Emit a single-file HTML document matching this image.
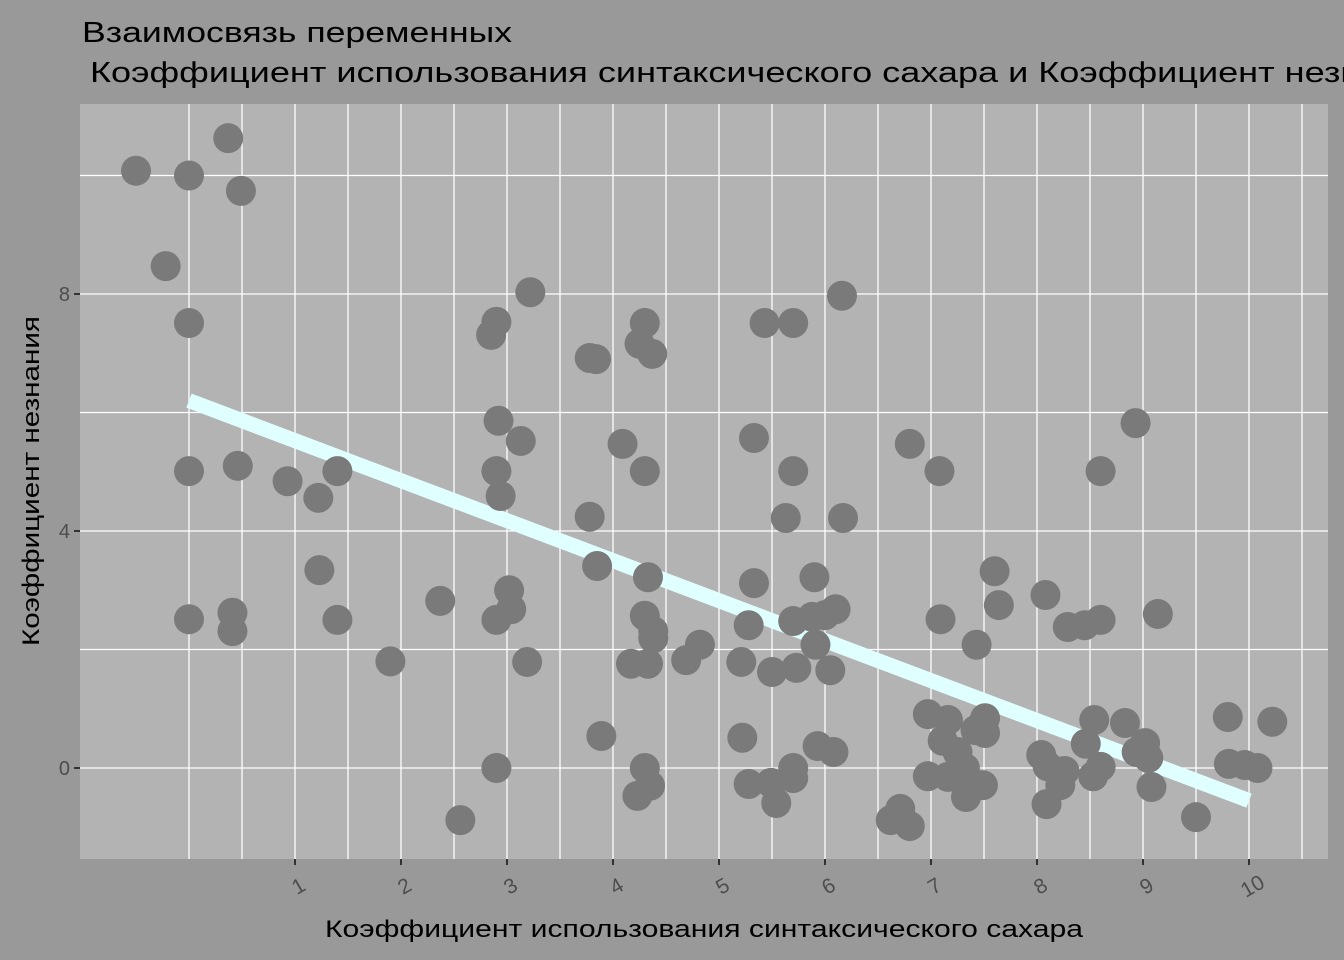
<!DOCTYPE html>
<html><head><meta charset="utf-8"><style>
html,body{margin:0;padding:0;background:#999999;}
svg{display:block;font-family:"Liberation Sans","DejaVu Sans",sans-serif;}
</style></head><body>
<svg id="chart" width="1344" height="960" xmlns="http://www.w3.org/2000/svg">
<rect x="0" y="0" width="1344" height="960" fill="#999999"/>
<rect x="80" y="104" width="1248" height="755" fill="#b3b3b3"/>
<g id="grid"></g>
<g id="trend"></g>
<g id="points"></g>
<g id="axes"></g>
<text x="82" y="42" font-size="29" fill="#000" textLength="430" lengthAdjust="spacingAndGlyphs">Взаимосвязь переменных</text>
<text x="90" y="82" font-size="29" fill="#000" textLength="1350" lengthAdjust="spacingAndGlyphs">Коэффициент использования синтаксического сахара и Коэффициент незнания</text>
<text x="704" y="937" font-size="24" fill="#000" text-anchor="middle" textLength="758" lengthAdjust="spacingAndGlyphs">Коэффициент использования синтаксического сахара</text>
<text transform="translate(39,481) rotate(-90)" font-size="24" fill="#000" text-anchor="middle" textLength="330" lengthAdjust="spacingAndGlyphs">Коэффициент незнания</text>
</svg>
<script>
const xTicks = [1,2,3,4,5,6,7,8,9,10];
const yTicks = [0,4,8];
const xMinor = [0,0.5,1.5,2.5,3.5,4.5,5.5,6.5,7.5,8.5,9.5,10.5];
const yMinor = [2,6,10];
const xVals = [-0.5,0,0.37,0.49,-0.22,0,0,0.46,0,0.41,0.41,0.93,1.22,1.4,1.23,1.4,1.9,2.37,2.56,2.85,2.9,2.92,2.9,2.94,3.02,3.04,2.9,2.9,3.19,3.13,3.22,3.78,3.84,3.78,3.85,3.89,4.09,4.17,4.23,4.25,4.3,4.37,4.3,4.33,4.3,4.38,4.38,4.33,4.3,4.35,4.69,4.82,5.21,5.22,5.28,5.28,5.33,5.33,5.43,5.5,5.54,5.49,5.7,5.7,5.63,5.7,5.73,5.7,5.7,5.9,5.91,5.88,6.0,6.1,5.93,6.08,6.05,6.16,6.17,6.62,6.71,6.8,6.8,7.08,7.09,6.97,6.97,7.11,7.16,7.25,7.16,7.32,7.33,7.42,7.49,7.51,7.51,7.43,7.6,7.64,8.08,8.04,8.1,8.09,8.22,8.26,8.29,8.45,8.6,8.6,8.46,8.54,8.53,8.6,8.83,8.93,9.02,8.94,9.05,9.08,9.14,9.5,9.8,9.81,10.08,9.96,10.22];
const yVals = [10.08,10.0,10.63,9.74,8.47,7.51,5.01,5.1,2.51,2.62,2.31,4.84,4.56,5.01,3.34,2.5,1.8,2.82,-0.88,7.31,7.53,5.86,5.01,4.59,3.0,2.68,2.5,0,1.79,5.52,8.03,6.92,6.9,4.24,3.41,0.54,5.47,1.76,-0.47,7.16,7.51,6.99,5.01,3.22,2.57,2.31,2.19,1.76,0,-0.3,1.82,2.08,1.79,0.51,2.41,-0.27,5.57,3.12,7.51,1.62,-0.59,-0.25,7.51,5.01,4.22,2.48,1.69,0,-0.17,3.22,2.08,2.55,2.58,2.68,0.37,0.27,1.65,7.97,4.22,-0.88,-0.69,-0.98,5.47,5.01,2.51,0.91,-0.14,0.46,0.81,0.27,-0.15,0,-0.49,0.64,-0.29,0.84,0.59,2.08,3.32,2.75,2.92,0.22,0.03,-0.61,-0.29,-0.05,2.38,2.41,2.5,5.01,0.41,0.81,-0.14,0.02,0.76,5.82,0.42,0.27,0.17,-0.32,2.6,-0.83,0.86,0.07,0,0.05,0.78];
const trendX = [0,10];
const trendY = [6.2,-0.55];

const NS='http://www.w3.org/2000/svg';
const X0=80,X1=1328,Y0=104,Y1=859;
function sx(v){return 189+v*106;}
function sy(v){return 768-v*59.25;}
function mk(tag,parent,attrs){const e=document.createElementNS(NS,tag);for(const k in attrs)e.setAttribute(k,attrs[k]);parent.appendChild(e);return e;}
const grid=document.getElementById('grid');
xMinor.concat(xTicks).forEach(v=>{const x=sx(v);if(x<X0||x>X1)return;
 const l=mk('line',grid,{x1:x,x2:x,y1:Y0,y2:Y1,stroke:'#fff','stroke-width':1.3});
 
 });
yMinor.concat(yTicks).forEach(v=>{const y=sy(v);if(y<Y0||y>Y1)return;
 const l=mk('line',grid,{x1:X0,x2:X1,y1:y,y2:y,stroke:'#fff','stroke-width':1.3});
 
 });
const tr=document.getElementById('trend');
const tl=mk('line',tr,{x1:sx(trendX[0]),y1:sy(trendY[0]),x2:sx(trendX[1]),y2:sy(trendY[1]),stroke:'#e0ffff','stroke-width':15});


const pts=document.getElementById('points');
xVals.forEach((v,i)=>{const c=mk('circle',pts,{cx:sx(v),cy:sy(yVals[i]),r:15,fill:'#7a7a7a'});
 
 });
const ax=document.getElementById('axes');
xTicks.forEach(v=>{const x=sx(v);
 const t=mk('line',ax,{x1:x,x2:x,y1:Y1,y2:Y1+6,stroke:'#333','stroke-width':2});
 
 
 const tx=mk('text',ax,{x:x+4,y:Y1+34,'font-size':21,fill:'#4d4d4d','text-anchor':'middle',transform:`rotate(-30 ${x+4} ${Y1+28})`});
 tx.textContent=v;
 
 });
yTicks.forEach(v=>{const y=sy(v);
 const t=mk('line',ax,{x1:X0-6,x2:X0,y1:y,y2:y,stroke:'#333','stroke-width':2});
 
 
 const tx=mk('text',ax,{x:X0-10,y:y+7,'font-size':20,fill:'#4d4d4d','text-anchor':'end'});
 tx.textContent=v;
 
 });
</script>
</body></html>
